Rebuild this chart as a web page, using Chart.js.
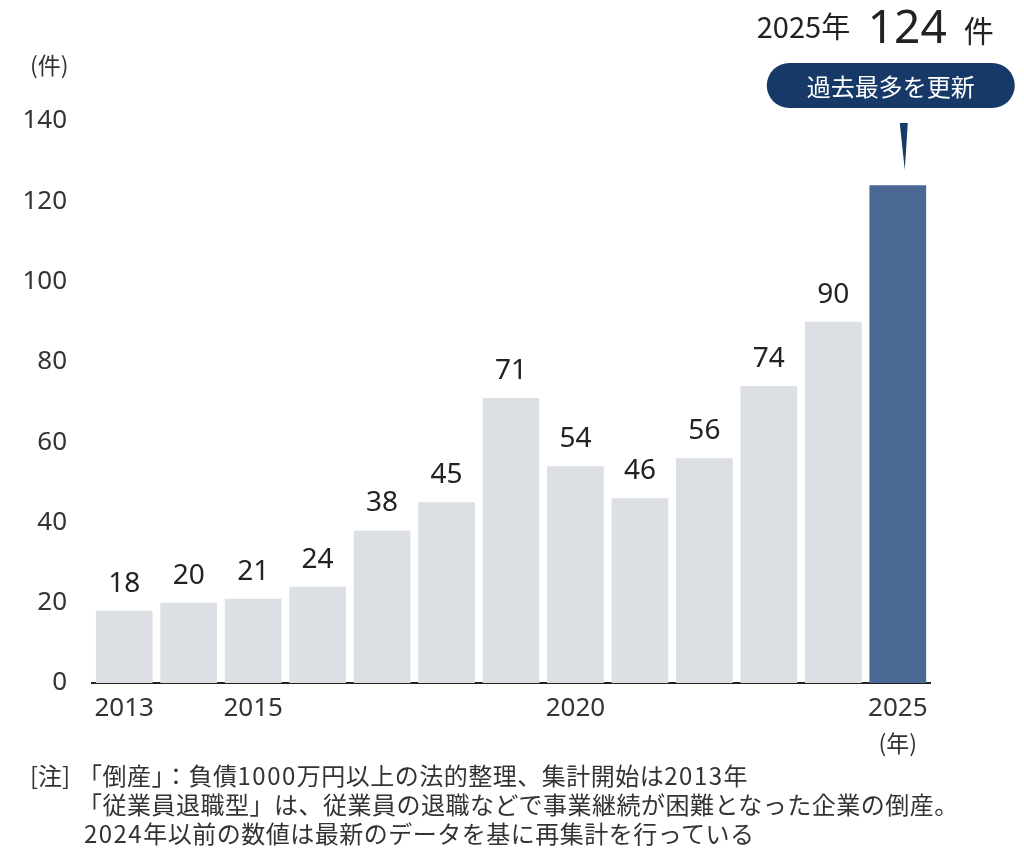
<!DOCTYPE html>
<html lang="ja">
<head>
<meta charset="utf-8">
<title>従業員退職型倒産</title>
<script src="https://cdn.jsdelivr.net/npm/chart.js@4.4.1/dist/chart.umd.min.js"></script>
<style>
  body { margin: 0; background: #fff; }
  #wrap { position: relative; width: 1024px; height: 861px; overflow: hidden; }
  #notes {
    position: absolute; left: 30px; top: 760px;
    font-family: "Noto Sans CJK JP", sans-serif; font-size: 24px; line-height: 29px; color: #333;
    letter-spacing: 0.5px;
  }
  #notes .tag { position: absolute; left: 0; top: 0; letter-spacing: 0; }
  #notes .lines { margin-left: 48px; white-space: nowrap; }
  #notes .num { letter-spacing: 1.5px; }
</style>
</head>
<body>
<div id="wrap">
  <canvas id="bankruptChart" width="1024" height="861"></canvas>
  <div id="notes">
    <span class="tag">[注]</span>
    <div class="lines">
      <div>「倒産」：負債<span class="num">1000</span>万円以上の法的整理、集計開始は<span class="num">2013</span>年</div>
      <div>「従業員退職型」は、従業員の退職などで事業継続が困難となった企業の倒産。</div>
      <div>&nbsp;<span class="num">2024</span>年以前の数値は最新のデータを基に再集計を行っている</div>
    </div>
  </div>
</div>
<script>
const years = ['2013', '2014', '2015', '2016', '2017', '2018', '2019', '2020', '2021', '2022', '2023', '2024', '2025'];
const counts = [18, 20, 21, 24, 38, 45, 71, 54, 46, 56, 74, 90, 124];
const shownYears = ['2013', '2015', '2020', '2025'];
const yTicks = [0, 20, 40, 60, 80, 100, 120, 140];

const greyBar = '#dcdfe3';
const blueBar = '#4b6894';
const navy = '#173968';
const latin = '"Noto Sans", "Noto Sans CJK JP", sans-serif';
const cjk = '"Noto Sans CJK JP", sans-serif';

const barColors = counts.map((v, i) => i === counts.length - 1 ? blueBar : greyBar);

// value labels, unit labels and the 2025 callout
const extrasPlugin = {
    id: 'extras',
    afterDatasetsDraw(chart) {
        const ctx = chart.ctx;
        const meta = chart.getDatasetMeta(0);
        const last = meta.data.length - 1;
        ctx.save();

        ctx.fillStyle = '#222';
        ctx.font = '28px ' + latin;
        ctx.textAlign = 'center';
        ctx.textBaseline = 'alphabetic';
        meta.data.forEach((bar, i) => {
            if (i === last) return;
            ctx.fillText(String(counts[i]), bar.x, bar.y - 19);
        });

        // (件) above the y axis
        ctx.fillStyle = '#333';
        ctx.font = '23px ' + cjk;
        ctx.textAlign = 'left';
        ctx.fillText('(件)', 30, 74);

        // (年) under the last year
        const lastBar = meta.data[last];
        ctx.textAlign = 'center';
        ctx.fillText('(年)', lastBar.x, 752);

        // headline
        const bx = lastBar.x;
        ctx.fillStyle = '#222';
        ctx.textAlign = 'left';
        ctx.font = '29px ' + cjk;
        ctx.fillText('2025年', bx - 141, 38);
        ctx.font = '46px ' + latin;
        ctx.fillText(String(counts[last]), bx - 30, 43);
        ctx.font = '30px ' + cjk;
        ctx.fillText('件', bx + 66, 42);

        // pill
        const px = bx - 131, py = 63, pw = 248, ph = 45;
        ctx.fillStyle = navy;
        ctx.beginPath();
        ctx.roundRect(px, py, pw, ph, ph / 2);
        ctx.fill();
        ctx.fillStyle = '#fff';
        ctx.font = '24px ' + cjk;
        ctx.textAlign = 'center';
        ctx.textBaseline = 'middle';
        ctx.fillText('過去最多を更新', px + pw / 2, py + ph / 2 + 1);

        // pointer
        ctx.fillStyle = navy;
        ctx.beginPath();
        ctx.moveTo(bx + 2, 123);
        ctx.lineTo(bx + 10, 123);
        ctx.lineTo(bx + 7, 170);
        ctx.closePath();
        ctx.fill();

        ctx.restore();
    }
};

new Chart(document.getElementById('bankruptChart'), {
    type: 'bar',
    data: {
        labels: years,
        datasets: [{
            data: counts,
            backgroundColor: barColors,
            borderWidth: 0,
            barPercentage: 0.88,
            categoryPercentage: 1.0
        }]
    },
    options: {
        responsive: false,
        animation: false,
        layout: { padding: { left: 0, right: 94, top: 121, bottom: 138 } },
        plugins: {
            legend: { display: false },
            tooltip: { enabled: false },
            title: { display: false }
        },
        scales: {
            x: {
                grid: { display: false, drawTicks: false },
                border: { display: true, color: '#222', width: 2 },
                afterFit(scale) { scale.height = 40; },
                ticks: {
                    autoSkip: false,
                    maxRotation: 0,
                    padding: 10,
                    color: '#333',
                    font: { size: 26, family: latin },
                    callback(value, index) {
                        const y = years[index];
                        return shownYears.includes(y) ? y : '';
                    }
                }
            },
            y: {
                min: 0,
                max: 140,
                grid: { display: false, drawTicks: false },
                border: { display: false },
                afterFit(scale) { scale.width = 92; },
                afterBuildTicks(scale) { scale.ticks = yTicks.map(v => ({ value: v })); },
                ticks: {
                    padding: 25,
                    color: '#333',
                    font: { size: 26, family: latin }
                }
            }
        }
    },
    plugins: [extrasPlugin]
});
</script>
</body>
</html>
